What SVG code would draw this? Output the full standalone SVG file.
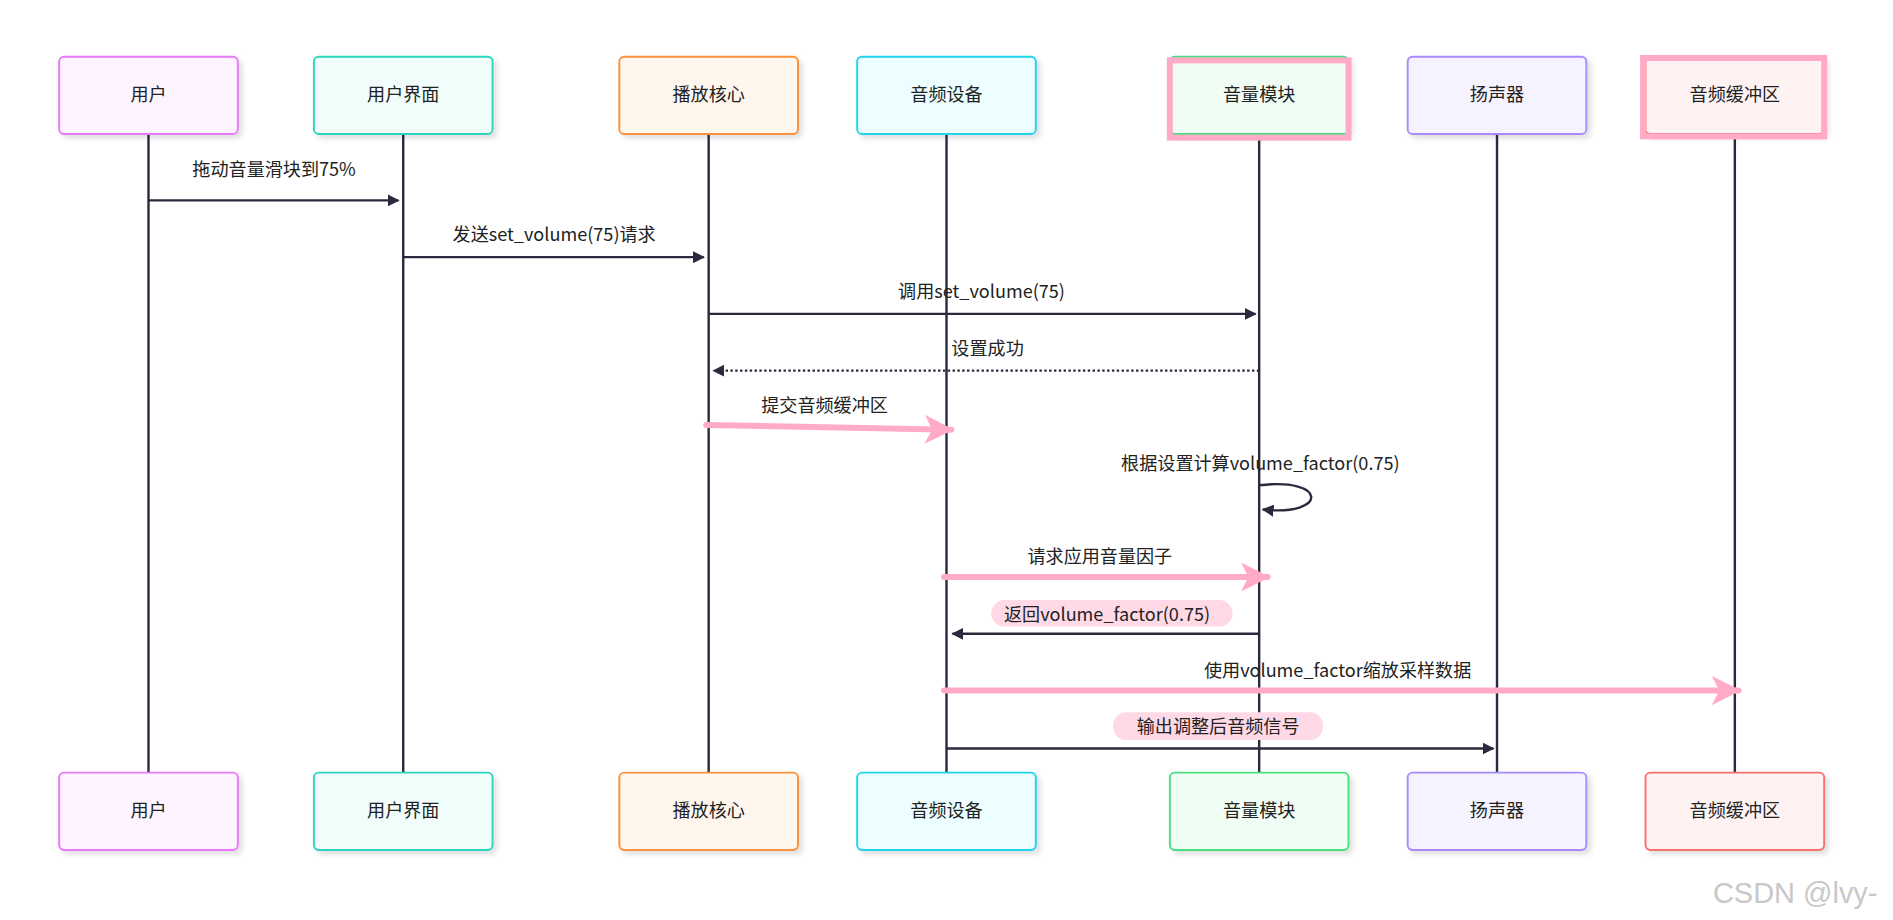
<svg xmlns="http://www.w3.org/2000/svg" width="1893" height="920" viewBox="0 0 1893 920">
<defs>
<marker id="ah" markerWidth="10" markerHeight="10" refX="9" refY="5" orient="auto" markerUnits="userSpaceOnUse"><path d="M0,0 L10,5 L0,10 z" fill="#2a2a3e"/></marker>
<marker id="ph" markerWidth="24" markerHeight="24" refX="22" refY="12" orient="auto" markerUnits="userSpaceOnUse"><path d="M0,0 L24,12 L0,24 L6,12 z" fill="#ffabc8"/></marker>
<filter id="sh" x="-10%" y="-10%" width="130%" height="130%"><feDropShadow dx="3" dy="3" stdDeviation="2" flood-color="#000" flood-opacity="0.12"/></filter>
</defs>
<style>
text{font-family:"Noto Sans CJK SC","Noto Sans",sans-serif;font-size:15px;fill:#222;text-anchor:middle}
.b{stroke-width:1.6;filter:url(#sh)}
.ll{stroke:#2a2a3e;stroke-width:2}
.m{stroke:#2a2a3e;stroke-width:2;fill:none;marker-end:url(#ah)}
.p{stroke:#ffabc8;stroke-width:5;fill:none;stroke-linecap:round;marker-end:url(#ph)}
</style>
<rect width="1893" height="920" fill="#fff"/>
<g transform="scale(1.20727)">
<g id="lifelines">
<line class="ll" x1="123" y1="111" x2="123" y2="640"/>
<line class="ll" x1="334" y1="111" x2="334" y2="640"/>
<line class="ll" x1="587" y1="111" x2="587" y2="640"/>
<line class="ll" x1="784" y1="111" x2="784" y2="640"/>
<line class="ll" x1="1043" y1="111" x2="1043" y2="640"/>
<line class="ll" x1="1240" y1="111" x2="1240" y2="640"/>
<line class="ll" x1="1437" y1="111" x2="1437" y2="640"/>
</g>
<g id="n-user"><rect class="b" x="49" y="47" width="148" height="64" rx="4" fill="#fdf4ff" stroke="#e879f9"/><text x="123" y="84">用户</text></g>
<g id="n-ui"><rect class="b" x="260" y="47" width="148" height="64" rx="4" fill="#f0fdfa" stroke="#2dd4bf"/><text x="334" y="84">用户界面</text></g>
<g id="n-core"><rect class="b" x="513" y="47" width="148" height="64" rx="4" fill="#fff7ed" stroke="#fb923c"/><text x="587" y="84">播放核心</text></g>
<g id="n-dev"><rect class="b" x="710" y="47" width="148" height="64" rx="4" fill="#ecfeff" stroke="#22d3ee"/><text x="784" y="84">音频设备</text></g>
<g id="n-vol"><rect class="b" x="969" y="47" width="148" height="64" rx="4" fill="#f0fdf4" stroke="#4ade80"/><rect x="969" y="50" width="148" height="64" fill="none" stroke="#ffabc8" stroke-width="5"/><text x="1043" y="84">音量模块</text></g>
<g id="n-spk"><rect class="b" x="1166" y="47" width="148" height="64" rx="4" fill="#f5f3ff" stroke="#a78bfa"/><text x="1240" y="84">扬声器</text></g>
<g id="n-buf"><rect class="b" x="1363" y="47" width="148" height="64" rx="4" fill="#fef2f2" stroke="#f87171"/><rect x="1361" y="48" width="150" height="65" fill="none" stroke="#ffabc8" stroke-width="5"/><text x="1437" y="84">音频缓冲区</text></g>
<g id="b-user"><rect class="b" x="49" y="640" width="148" height="64" rx="4" fill="#fdf4ff" stroke="#e879f9"/><text x="123" y="677">用户</text></g>
<g id="b-ui"><rect class="b" x="260" y="640" width="148" height="64" rx="4" fill="#f0fdfa" stroke="#2dd4bf"/><text x="334" y="677">用户界面</text></g>
<g id="b-core"><rect class="b" x="513" y="640" width="148" height="64" rx="4" fill="#fff7ed" stroke="#fb923c"/><text x="587" y="677">播放核心</text></g>
<g id="b-dev"><rect class="b" x="710" y="640" width="148" height="64" rx="4" fill="#ecfeff" stroke="#22d3ee"/><text x="784" y="677">音频设备</text></g>
<g id="b-vol"><rect class="b" x="969" y="640" width="148" height="64" rx="4" fill="#f0fdf4" stroke="#4ade80"/><text x="1043" y="677">音量模块</text></g>
<g id="b-spk"><rect class="b" x="1166" y="640" width="148" height="64" rx="4" fill="#f5f3ff" stroke="#a78bfa"/><text x="1240" y="677">扬声器</text></g>
<g id="b-buf"><rect class="b" x="1363" y="640" width="148" height="64" rx="4" fill="#fef2f2" stroke="#f87171"/><text x="1437" y="677">音频缓冲区</text></g>
<g id="connectors">
<text x="227" y="146">拖动音量滑块到75%</text>
<line class="m" x1="123" y1="166" x2="330" y2="166"/>
<text x="459" y="200">发送set_volume(75)请求</text>
<line class="m" x1="334" y1="213" x2="583" y2="213"/>
<text x="813" y="247">调用set_volume(75)</text>
<line class="m" x1="587" y1="260" x2="1040" y2="260"/>
<text x="818" y="294">设置成功</text>
<line class="m" x1="1043" y1="307" x2="591" y2="307" stroke-dasharray="2,2"/>
<text x="683" y="341">提交音频缓冲区</text>
<line class="p" x1="585" y1="352" x2="788" y2="356"/>
<text x="1044" y="389">根据设置计算volume_factor(0.75)</text>
<path class="m" d="M1043,402 C1100,395 1100,428 1046,422"/>
<text x="911" y="466">请求应用音量因子</text>
<line class="p" x1="782" y1="478" x2="1050" y2="478"/>
<rect x="821" y="497" width="200" height="22" rx="11" fill="#ffd9e6"/>
<text x="917" y="514">返回volume_factor(0.75)</text>
<line class="m" x1="1043" y1="525" x2="789" y2="525"/>
<text x="1108" y="561">使用volume_factor缩放采样数据</text>
<line class="p" x1="782" y1="572" x2="1440" y2="572"/>
<rect x="922" y="590" width="174" height="23" rx="11" fill="#ffd9e6"/>
<text x="1009" y="607">输出调整后音频信号</text>
<line class="m" x1="784" y1="620" x2="1237" y2="620"/>
</g>
<text x="1487" y="748" style="font-family:'Liberation Sans',sans-serif;font-size:24px;fill:#c8c8c8">CSDN @lvy-</text>
</g>
</svg>
